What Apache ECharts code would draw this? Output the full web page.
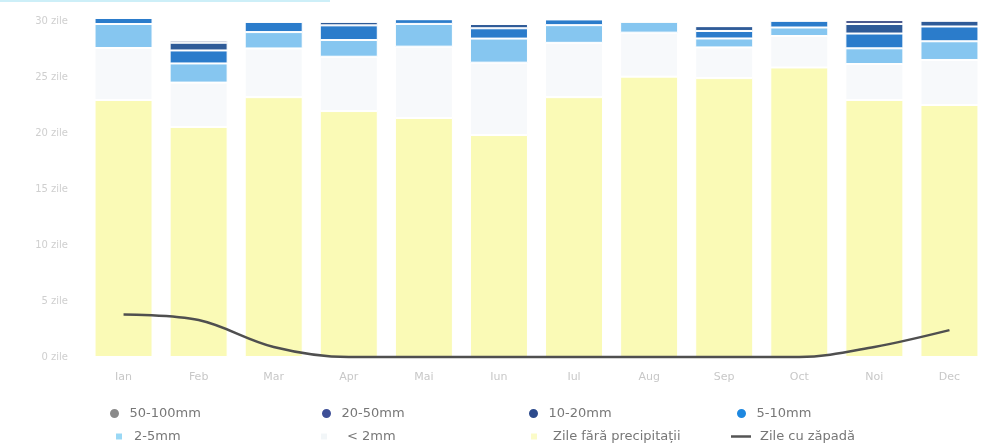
<!DOCTYPE html>
<html>
<head>
<meta charset="utf-8">
<script src="https://cdn.jsdelivr.net/npm/echarts@6/dist/echarts.min.js"></script>
<style>
  html, body { margin: 0; padding: 0; background: #ffffff; }
  #chart { width: 987px; height: 448px; }
</style>
</head>
<body>
<div id="chart"></div>
<script>
// Monthly precipitation-day classes (days per month)
const months = ['Ian', 'Feb', 'Mar', 'Apr', 'Mai', 'Iun', 'Iul', 'Aug', 'Sep', 'Oct', 'Noi', 'Dec'];
const dryDays   = [22.95, 20.54, 23.2, 21.96, 21.34, 19.82, 23.2, 25.03, 24.9, 25.85, 22.95, 22.5];
const under2mm  = [4.64, 3.96, 4.35, 4.85, 6.37, 6.46, 4.85, 3.93, 2.74, 2.81, 3.21, 4.02];
const mm2to5    = [2.14, 1.71, 1.46, 1.49, 2.03, 2.15, 1.58, 0.98, 0.8, 0.76, 1.4, 1.67];
const mm5to10   = [0.54, 1.16, 0.92, 1.31, 0.42, 0.92, 0.51, 0, 0.67, 0.61, 1.32, 1.32];
const mm10to20  = [0, 0.69, 0, 0.32, 0, 0.38, 0, 0, 0.43, 0, 0.85, 0.52];
const mm20to50  = [0, 0.19, 0, 0, 0, 0, 0, 0, 0, 0, 0.36, 0];
const mm50to100 = [0, 0, 0, 0, 0, 0, 0, 0, 0, 0, 0, 0];
const snowDays  = [3.8, 3.3, 0.9, 0, 0, 0, 0, 0, 0, 0, 0.9, 2.4];
const yTicks = [0, 5, 10, 15, 20, 25, 30];

const names = {
  p50: '50-100mm', p20: '20-50mm', p10: '10-20mm', p5: '5-10mm',
  p2: '2-5mm', p0: '< 2mm', dry: 'Zile fără precipitații', snow: 'Zile cu zăpadă'
};

const colors = {
  p50: '#8c8c8c', p20: '#4d5b8f', p10: '#2f5b98', p5: '#2b7ccb',
  p2: '#86c6f0', p0: '#f7f9fb', dry: '#fafab6', snow: '#4f4f4f'
};

const chart = echarts.init(document.getElementById('chart'), null, { renderer: 'canvas' });

function barSeries(key, values) {
  return {
    name: names[key],
    type: 'bar',
    stack: 'days',
    barWidth: 58,
    clip: false,
    data: values,
    itemStyle: { color: colors[key], borderColor: '#ffffff', borderWidth: 1 },
    emphasis: { disabled: true },
    animation: false
  };
}

// One legend block per entry so the two rows line up in four columns
function legendItem(key, icon, iconColor, left, top, w, h, textGap) {
  return {
    data: [{ name: names[key], icon: icon, itemStyle: { color: iconColor } }],
    left: left, top: top,
    itemWidth: w, itemHeight: h,
    padding: 0, itemGap: 0,
    selectedMode: false,
    textStyle: {
      color: '#777777', fontSize: 13, fontFamily: 'DejaVu Sans',
      padding: [0, 0, 0, textGap]
    }
  };
}

const option = {
  backgroundColor: '#ffffff',
  animation: false,
  grid: { left: 86, top: 21, width: 918, height: 336, containLabel: false },
  graphic: [{
    type: 'rect', left: 0, top: 0,
    shape: { width: 330, height: 2 },
    style: { fill: '#cdeff8' }, silent: true
  }],
  legend: [
    legendItem('p50', 'circle', '#8a8a8a', 108, 407, 20, 11, 0),
    legendItem('p20', 'circle', '#3e4f97', 320, 407, 20, 11, 0),
    legendItem('p10', 'circle', '#2c4a8c', 527, 407, 20, 11, 0),
    legendItem('p5',  'circle', '#1e88e0', 735, 407, 20, 11, 0),
    legendItem('p2',  'rect', '#9ad8f5', 114, 430, 8, 8, 6),
    legendItem('p0',  'rect', '#f2f6f8', 319, 430, 8, 8, 14),
    legendItem('dry', 'rect', '#fbfbc8', 529, 430, 8, 8, 10),
    legendItem('snow', 'path://M0,0 H20 V2.5 H0 Z', '#555555', 731, 430, 20, 8, 4)
  ],
  xAxis: {
    type: 'category',
    data: months,
    axisLine: { show: false },
    axisTick: { show: false },
    axisLabel: { color: '#c8c8c8', fontSize: 11, margin: 15, fontFamily: 'DejaVu Sans' },
    splitLine: { show: false }
  },
  yAxis: {
    type: 'value',
    min: yTicks[0],
    max: yTicks[yTicks.length - 1],
    interval: 5,
    axisLine: { show: false },
    axisTick: { show: false },
    splitLine: { show: false },
    axisLabel: {
      color: '#cfcfcf', fontSize: 10, margin: 18, fontFamily: 'DejaVu Sans',
      formatter: v => v + ' zile'
    }
  },
  series: [
    barSeries('dry', dryDays),
    barSeries('p0', under2mm),
    barSeries('p2', mm2to5),
    barSeries('p5', mm5to10),
    barSeries('p10', mm10to20),
    barSeries('p20', mm20to50),
    barSeries('p50', mm50to100),
    {
      name: names.snow,
      type: 'line',
      data: snowDays,
      smooth: 0.35,
      showSymbol: false,
      symbol: 'none',
      z: 10,
      clip: false,
      lineStyle: { color: colors.snow, width: 2.5 },
      itemStyle: { color: colors.snow },
      emphasis: { disabled: true }
    }
  ]
};

chart.setOption(option);
</script>
</body>
</html>
